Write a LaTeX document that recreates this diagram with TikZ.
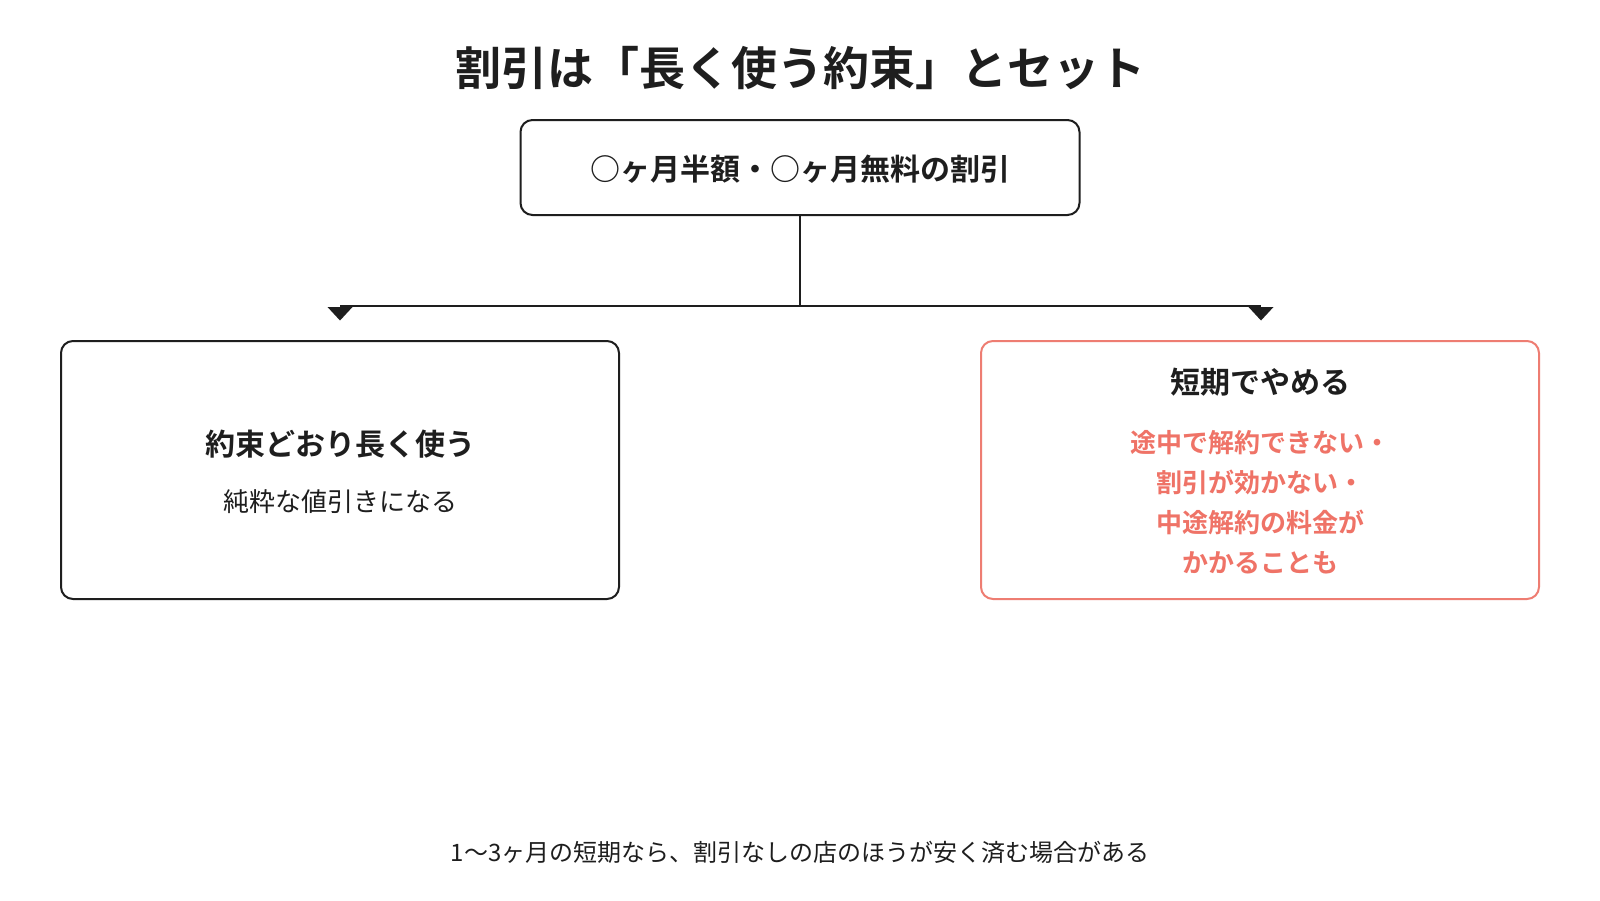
\documentclass[tikz,border=0pt]{standalone}
\usepackage{fontspec}
\setmainfont{Noto Sans CJK JP}[BoldFont={Noto Sans CJK JP Bold}]
\definecolor{ink}{HTML}{1E1E1E}
\definecolor{accent}{HTML}{EF7367}
\definecolor{accentline}{HTML}{EE7D72}
\begin{document}
\begin{tikzpicture}[x=1pt,y=-1pt,
  box/.style={draw=ink,line width=2pt,rounded corners=12pt,minimum width=558pt,inner sep=0pt},
  redbox/.style={box,draw=accentline},
  conn/.style={draw=ink,line width=1.8pt},
  tip/.style={fill=ink},
  txt/.style={inner sep=0pt,text=ink,align=center}]
\useasboundingbox[fill=white] (0,0) rectangle (1600,900);

\node[txt,font=\fontsize{46}{55}\selectfont\bfseries] (title) at (800,68) {割引は「長く使う約束」とセット};

\node[box,minimum width=559pt,minimum height=95pt] (top) at (800,167.5) {};
\node[txt,font=\fontsize{30}{36}\selectfont\bfseries] (toptxt) at (800,169) {○ヶ月半額・○ヶ月無料の割引};

\node[box,minimum height=258pt] (left) at (340,470) {};
\node[txt,font=\fontsize{30}{36}\selectfont\bfseries] (lefttitle) at (340,444) {約束どおり長く使う};
\node[txt,font=\fontsize{26}{30}\selectfont] (leftsub) at (340,502) {純粋な値引きになる};

\node[redbox,minimum height=258pt] (right) at (1260,470) {};
\node[txt,font=\fontsize{30}{36}\selectfont\bfseries] (righttitle) at (1260,382) {短期でやめる};
\node[txt,text=accent,font=\fontsize{26}{40}\selectfont\bfseries] (rightsub) at (1260,502)
  {途中で解約できない・\\割引が効かない・\\中途解約の料金が\\かかることも};

\coordinate (j) at (800,306);
\coordinate (la) at (340,306);
\coordinate (ra) at (1261,306);
\draw[conn] (top.south) -- (j);
\draw[conn] (la) -- (ra);
\fill[tip] ([xshift=-12.5pt,yshift=-1pt]la) -- ++(25,0) -- ++(-12.5,13.5) -- cycle;
\fill[tip] ([xshift=-12.5pt,yshift=-1pt]ra) -- ++(25,0) -- ++(-12.5,13.5) -- cycle;

\node[txt,font=\fontsize{24}{30}\selectfont] (note) at (800,852) {1〜3ヶ月の短期なら、割引なしの店のほうが安く済む場合がある};
\end{tikzpicture}
\end{document}
